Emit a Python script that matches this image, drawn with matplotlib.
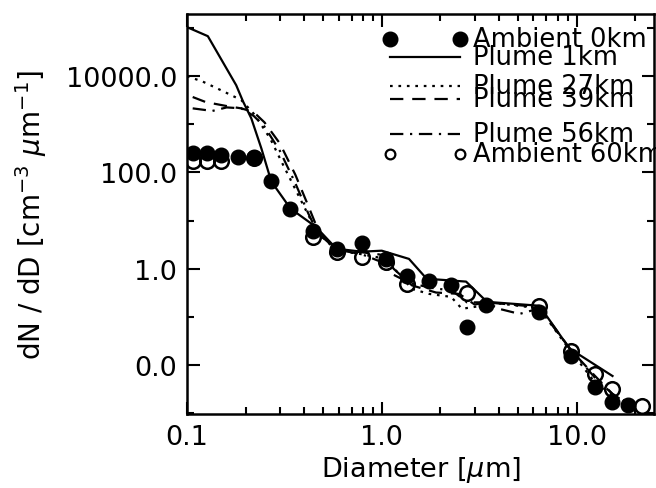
import numpy as np
import matplotlib
matplotlib.use("Agg")
import matplotlib.pyplot as plt
from matplotlib.ticker import FixedLocator, FuncFormatter, NullFormatter

plt.rcParams['font.family'] = ['DejaVu Sans']
plt.rcParams['mathtext.fontset'] = 'dejavusans'

# ---- data ----
amb_d = [0.107, 0.127, 0.150, 0.183, 0.221, 0.271, 0.340, 0.446, 0.586, 0.789,
         1.05, 1.35, 1.75, 2.27, 2.74, 3.44, 6.45, 9.4, 12.4, 15.3, 18.3, 21.7]
amb0 = [250, 250, 226, 205, 205, 65, 17.8, 6.2, 2.6, 3.5,
        1.6, 0.71, 0.56, 0.46, 0.062, 0.178, 0.127, 0.0155, 0.0035, 0.0017, 0.0015, np.nan]
amb60 = [170, 170, 170, np.nan, 200, np.nan, np.nan, 4.6, 2.26, 1.78,
         1.4, 0.49, np.nan, np.nan, 0.32, np.nan, 0.17, 0.0196, 0.0065, 0.0032, np.nan, 0.0014]

p1_d = [0.1, 0.128, 0.179, 0.194, 0.214, 0.241, 0.271, 0.34, 0.457, 0.586, 0.79, 1.0,
        1.38, 1.7, 2.71, 3.47, 6.45, 9.2, 15.3]
p1 = [1.05e5, 6.8e4, 6500, 3000, 1330, 316, 65, 17.8, 7.5, 2.6, 2.26, 2.37,
      1.6, 0.62, 0.54, 0.205, 0.17, 0.022, 0.0059]

p27_d = [0.1, 0.12, 0.153, 0.19, 0.224, 0.268, 0.31, 0.36, 0.42, 0.47, 0.586, 0.79,
         1.05, 1.43, 1.75, 2.27, 2.58, 3.27, 4.0, 6.45, 8.9, 12.1, 15.3, 21.0]
p27 = [10000, 7800, 4900, 3200, 1540, 500, 150, 45, 13, 5.5, 2.4, 2.0,
       1.6, 0.38, 0.30, 0.26, 0.147, 0.17, 0.19, 0.15, 0.025, 0.005, 0.0023, 0.0014]

p39_d = [0.107, 0.125, 0.16, 0.19, 0.22, 0.25, 0.30, 0.36, 0.42, 0.47, 0.586, 0.79,
         1.05, 1.15, 1.43, 1.9, 2.5, 3.0, 3.44, 6.45, 9.4, 12.4, 15.3, 18.0]
p39 = [3700, 2900, 2400, 2150, 1800, 1100, 400, 90, 20, 6.5, 2.5, 2.2,
       1.9, 1.0, 0.45, 0.32, 0.30, 0.18, 0.20, 0.16, 0.02, 0.006, 0.0025, 0.0016]

p56_d = [0.107, 0.135, 0.16, 0.19, 0.22, 0.25, 0.30, 0.36, 0.42, 0.47, 0.586, 0.79,
         1.05, 1.12, 1.4, 1.8, 2.3, 2.74, 3.44, 4.0, 5.1, 6.45, 9.4, 12.4, 15.3, 19.0]
p56 = [2150, 1900, 2250, 2150, 1500, 900, 280, 60, 14, 5.5, 2.5, 2.0,
       1.27, 0.79, 0.5, 0.4, 0.35, 0.2, 0.2, 0.147, 0.115, 0.15, 0.02, 0.0055, 0.0025, 0.0015]

labels = ["Ambient 0km", "Plume 1km", "Plume 27km", "Plume 39km", "Plume 56km", "Ambient 60km"]
yticks_major = [1e-2, 1, 1e2, 1e4]
yticks_minor = [1e-3, 1e-1, 10, 1e3, 1e5]
xticks_major = [0.1, 1.0, 10.0]

# ---- figure ----
fig = plt.figure(figsize=(6.56, 4.89), dpi=100)
ax = fig.add_axes([0.285, 0.151, 0.712, 0.818])

lw = 1.6
ax.plot(p1_d, p1, color='black', lw=lw, ls='-')
ax.plot(p27_d, p27, color='black', lw=lw, ls=(0, (1.2, 2.6)))
ax.plot(p39_d, p39, color='black', lw=lw, ls=(0, (6, 4)))
ax.plot(p56_d, p56, color='black', lw=lw, ls=(0, (6, 3, 1, 3)))
ax.plot(amb_d, amb0, ls='none', marker='o', ms=10.5, mfc='black', mec='black')
ax.plot(amb_d, amb60, ls='none', marker='o', ms=10.5, mfc='none', mec='black', mew=1.8)

ax.set_xscale('log')
ax.set_yscale('log')
ax.set_xlim(0.1, 25)
ax.set_ylim(9.5e-4, 1.95e5)

ax.yaxis.set_major_locator(FixedLocator(yticks_major))
ax.yaxis.set_minor_locator(FixedLocator(yticks_minor))
ax.yaxis.set_major_formatter(FuncFormatter(lambda v, p: "%.1f" % v))
ax.yaxis.set_minor_formatter(NullFormatter())
ax.xaxis.set_major_locator(FixedLocator(xticks_major))
ax.xaxis.set_major_formatter(FuncFormatter(lambda v, p: "%.1f" % v))
ax.xaxis.set_minor_formatter(NullFormatter())

ax.tick_params(which='both', direction='in', top=True, right=True, width=1.5, labelsize=19.5)
ax.tick_params(which='major', length=9, pad=7)
ax.tick_params(which='minor', length=5)
for s in ax.spines.values():
    s.set_linewidth(1.8)

ax.set_xlabel("Diameter [$\\mu$m]", fontsize=19.5, labelpad=3)
ax.set_ylabel("dN / dD [cm$^{-3}$ $\\mu$m$^{-1}$]", fontsize=20, labelpad=12)

# ---- legend (hand placed, like the original) ----
tr = ax.transAxes
x0, x1, xt = 0.435, 0.585, 0.612
rows = [0.9375, 0.8925, 0.82, 0.7875, 0.70, 0.65]
styles = [dict(ls='none', marker='o', ms=10.5, mfc='black', mec='black'),
          dict(ls='-', lw=lw),
          dict(ls=(0, (1.2, 2.6)), lw=lw),
          dict(ls=(0, (6, 4)), lw=lw),
          dict(ls=(0, (6, 3, 1, 3)), lw=lw),
          dict(ls='none', marker='o', ms=7, mfc='none', mec='black', mew=1.6)]
for yy, lab, st in zip(rows, labels, styles):
    ax.plot([x0, x1], [yy, yy], transform=tr, color='black', clip_on=False, **st)
    ax.text(xt, yy, lab, transform=tr, fontsize=18.5, va='center', ha='left', clip_on=False)

fig.savefig("out.png", dpi=100)
